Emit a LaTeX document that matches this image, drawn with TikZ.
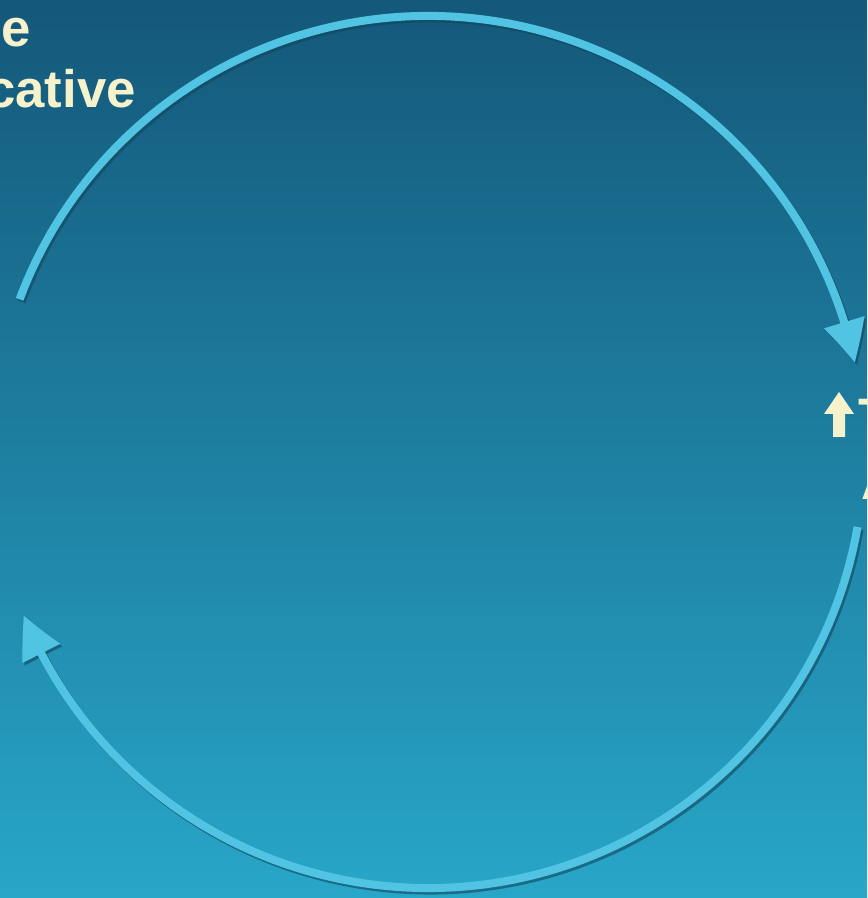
\documentclass[tikz,border=0pt]{standalone}
\usepackage{fontspec}
\setmainfont{Liberation Sans}
\usetikzlibrary{arrows.meta, bending}

\definecolor{bgtop}{RGB}{20,88,122}
\definecolor{bgmid}{RGB}{32,142,176}
\definecolor{bgbot}{RGB}{40,166,200}
\definecolor{arccol}{RGB}{80,196,226}
\definecolor{arcshadow}{RGB}{18,70,92}
\definecolor{slidetext}{RGB}{246,242,204}

\begin{document}
\begin{tikzpicture}[scale=1.0, >={Triangle[width=0.8cm, length=0.84cm, bend]},
	loop/.style={line width=0.16cm, draw=arccol, ->},
	loopshadow/.style={line width=0.16cm, draw=arcshadow, opacity=0.6, ->},
	slide/.style={text=slidetext, font=\bfseries\fontsize{30}{36}\selectfont, inner sep=0pt}]
	\useasboundingbox (0,0) rectangle (17.34,17.96);
	\clip (0,0) rectangle (17.34,17.96);
	\shade[top color=bgtop, middle color=bgmid, bottom color=bgbot] (0,0) rectangle (17.34,17.96);

	\coordinate (c) at (8.56,8.92);

	% shadows
	\draw[loopshadow] ([shift={(0.04,-0.05)}]c) ++(159.5:8.72) arc[start angle=159.5, end angle=11.8, radius=8.72];
	\draw[loopshadow] ([shift={(0.04,-0.05)}]c) ++(-9.9:8.72) arc[start angle=-9.9, end angle=-158, radius=8.72];

	% the loop
	\draw[loop] (c) ++(159.5:8.72) arc[start angle=159.5, end angle=11.8, radius=8.72];
	\draw[loop] (c) ++(-9.9:8.72) arc[start angle=-9.9, end angle=-158, radius=8.72];

	\node[slide, anchor=base east] (lineA) at (0.62,17.02) {e};
	\node[slide, anchor=base east] (lineB) at (2.72,15.80) {cative};

	\fill[slidetext] (16.78,10.12) -- (17.08,9.68) -- (16.90,9.68) -- (16.90,9.22)
		-- (16.66,9.22) -- (16.66,9.68) -- (16.48,9.68) -- cycle;
	\node[slide, anchor=base west] (rightA) at (17.17,9.24) {T};
	\node[slide, anchor=base west] (rightB) at (17.22,7.96) {A};
\end{tikzpicture}
\end{document}
